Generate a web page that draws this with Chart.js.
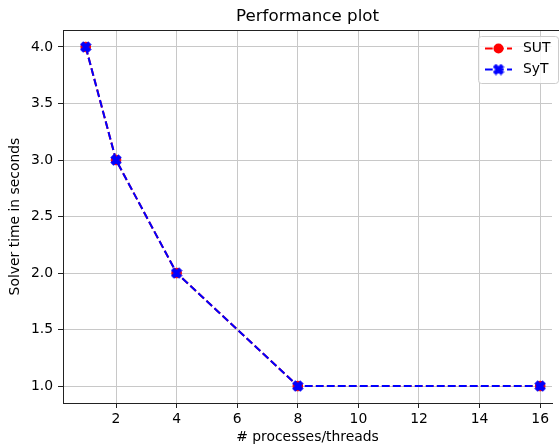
<!DOCTYPE html>
<html><head><meta charset="utf-8">
<script src="https://cdn.jsdelivr.net/npm/chart.js@4"></script>
<style>html,body{margin:0;padding:0;background:#fff}</style>
</head><body>
<canvas id="c" width="559" height="446" style="display:block;width:559px;height:446px"></canvas>
<script>
const threads = [1, 2, 4, 8, 16];
const sutTimes = [4.0, 3.0, 2.0, 1.0, 1.0];
const sytTimes = [4.0, 3.0, 2.0, 1.0, 1.0];
const seriesLabels = ['SUT', 'SyT'];
const seriesColors = ['#ff0000', '#0000ff'];
const xTicks = [2, 4, 6, 8, 10, 12, 14, 16];
const yTicks = [1.0, 1.5, 2.0, 2.5, 3.0, 3.5, 4.0];

const FONT = "'DejaVu Sans', sans-serif";
const DASH = [7.7, 3.3];

function makeXMarker(ms, color) {
  const size = Math.ceil(ms) + 2;
  const c = document.createElement('canvas');
  c.width = size; c.height = size;
  const g = c.getContext('2d');
  g.translate(size / 2, size / 2);
  g.rotate(Math.PI / 4);
  const u = ms / 6 / 0.943;
  const pts = [[-1,-3],[1,-3],[1,-1],[3,-1],[3,1],[1,1],[1,3],[-1,3],[-1,1],[-3,1],[-3,-1],[-1,-1]];
  g.beginPath();
  pts.forEach((p, i) => { const x = p[0] * u, y = p[1] * u; if (i) g.lineTo(x, y); else g.moveTo(x, y); });
  g.closePath();
  g.fillStyle = color; g.fill();
  g.lineWidth = 1; g.strokeStyle = color; g.stroke();
  return c;
}
const xMarker = makeXMarker(10, seriesColors[1]);

const frameAndLegend = {
  id: 'frameAndLegend',
  afterDraw(chart) {
    const ctx = chart.ctx, a = chart.chartArea;
    ctx.save();
    ctx.strokeStyle = '#222'; ctx.lineWidth = 1;
    ctx.beginPath(); ctx.moveTo(a.left, Math.round(a.top) + 0.5); ctx.lineTo(559, Math.round(a.top) + 0.5); ctx.stroke();
    const bx = 478.5, by = 36.5, bw = 80, bh = 47, r = 3;
    ctx.beginPath();
    ctx.moveTo(bx + r, by); ctx.lineTo(bx + bw - r, by); ctx.arcTo(bx + bw, by, bx + bw, by + r, r);
    ctx.lineTo(bx + bw, by + bh - r); ctx.arcTo(bx + bw, by + bh, bx + bw - r, by + bh, r);
    ctx.lineTo(bx + r, by + bh); ctx.arcTo(bx, by + bh, bx, by + bh - r, r);
    ctx.lineTo(bx, by + r); ctx.arcTo(bx, by, bx + r, by, r); ctx.closePath();
    ctx.fillStyle = 'rgba(255,255,255,0.8)'; ctx.fill();
    ctx.strokeStyle = '#cccccc'; ctx.lineWidth = 1; ctx.stroke();
    chart.data.datasets.forEach((ds, i) => {
      const y = 48.5 + i * 21;
      ctx.strokeStyle = ds.borderColor; ctx.lineWidth = 2; ctx.setLineDash(DASH);
      ctx.beginPath(); ctx.moveTo(485, y); ctx.lineTo(512, y); ctx.stroke();
      ctx.setLineDash([]);
      if (ds.pointStyle === 'circle') {
        ctx.fillStyle = ds.pointBackgroundColor; ctx.beginPath(); ctx.arc(498.5, y, 5, 0, Math.PI * 2); ctx.fill();
      } else {
        ctx.drawImage(ds.pointStyle, 498.5 - ds.pointStyle.width / 2, y - ds.pointStyle.height / 2);
      }
      ctx.fillStyle = '#000'; ctx.font = "13.9px " + FONT; ctx.textBaseline = 'middle'; ctx.textAlign = 'left';
      ctx.fillText(ds.label, 523, y);
    });
    ctx.restore();
  }
};

new Chart(document.getElementById('c'), {
  type: 'line',
  data: {
    datasets: [
      { label: seriesLabels[0], data: threads.map((t, i) => ({ x: t, y: sutTimes[i] })),
        borderColor: seriesColors[0], backgroundColor: seriesColors[0], borderWidth: 2, borderDash: DASH,
        pointStyle: 'circle', pointRadius: 4.8, pointBorderWidth: 1, pointBackgroundColor: seriesColors[0], pointBorderColor: seriesColors[0],
        tension: 0, fill: false, order: 2 },
      { label: seriesLabels[1], data: threads.map((t, i) => ({ x: t, y: sytTimes[i] })),
        borderColor: seriesColors[1], backgroundColor: seriesColors[1], borderWidth: 2, borderDash: DASH,
        pointStyle: xMarker, pointRadius: 5, pointBackgroundColor: seriesColors[1], pointBorderColor: seriesColors[1],
        tension: 0, fill: false, order: 1 }
    ]
  },
  options: {
    responsive: false, animation: false, devicePixelRatio: 1,
    layout: { padding: 0 },
    plugins: {
      legend: { display: false }, tooltip: { enabled: false },
      title: { display: true, text: 'Performance plot', fullSize: false, color: '#000',
        font: { family: FONT, size: 16.7, weight: 'normal', lineHeight: 1.2 }, padding: { top: 7, bottom: 3 } }
    },
    scales: {
      x: { type: 'linear', min: 0.25, max: 16.39,
        afterBuildTicks: s => { s.ticks = xTicks.map(v => ({ value: v })); },
        afterFit: s => { s.height = 43; },
        grid: { color: '#c8c8c8', lineWidth: 1, drawTicks: true, tickLength: 5, tickColor: '#222' },
        border: { color: '#222', width: 1 },
        ticks: { color: '#000', padding: 3, maxRotation: 0, autoSkip: false, font: { family: FONT, size: 13.9 }, callback: v => String(v) },
        title: { display: true, text: '# processes/threads', color: '#000', font: { family: FONT, size: 13.9 }, padding: { top: 4, bottom: 0 } }
      },
      y: { type: 'linear', min: 0.85, max: 4.15,
        afterBuildTicks: s => { s.ticks = yTicks.map(v => ({ value: v })); },
        afterFit: s => { s.width = 63; },
        grid: { color: '#c8c8c8', lineWidth: 1, drawTicks: true, tickLength: 5, tickColor: '#222' },
        border: { color: '#222', width: 1 },
        ticks: { color: '#000', padding: 5, autoSkip: false, font: { family: FONT, size: 13.9 }, callback: v => Number(v).toFixed(1) },
        title: { display: true, text: 'Solver time in seconds', color: '#000', font: { family: FONT, size: 13.9 }, padding: { top: 7, bottom: 0 } }
      }
    }
  },
  plugins: [frameAndLegend]
});
</script>
</body></html>
